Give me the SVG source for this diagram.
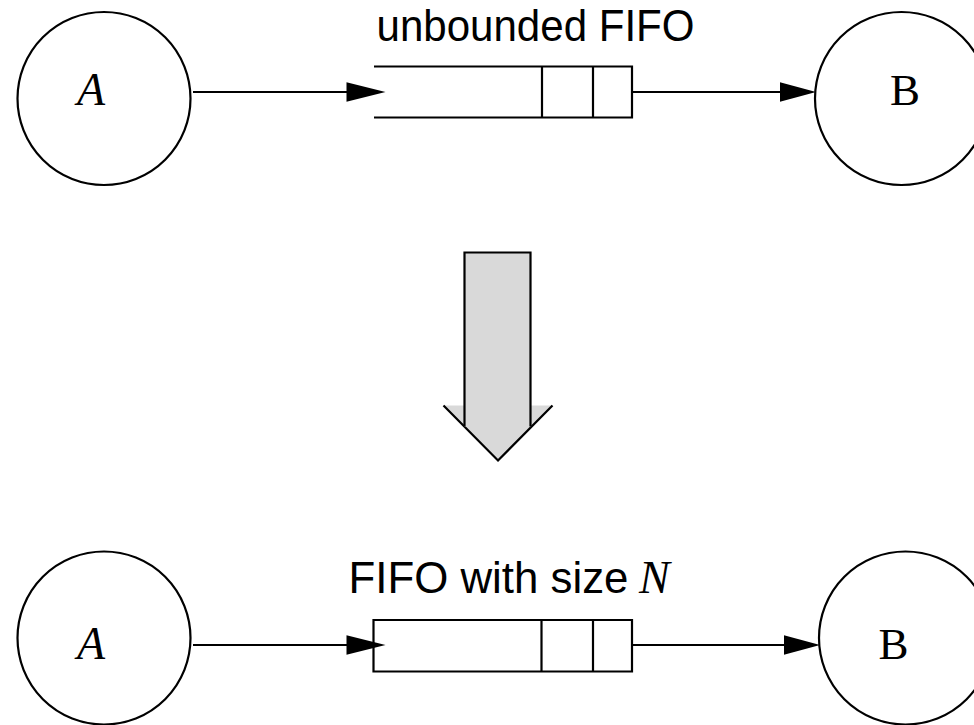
<svg xmlns="http://www.w3.org/2000/svg" width="974" height="725" viewBox="0 0 974 725">
<style>
.ln{stroke:#000;stroke-width:2.2;fill:none}
.nd{stroke:#000;stroke-width:2.2;fill:#fff}
.ah{fill:#000;stroke:none}
.lbl{font-family:"Liberation Sans",Arial,sans-serif;font-size:44px;fill:#000}
.mi{font-family:"Liberation Serif","Times New Roman",serif;font-style:italic;font-size:46px;fill:#000}
.mr{font-family:"Liberation Serif","Times New Roman",serif;font-size:45px;fill:#000}
</style>
<rect width="974" height="725" fill="#fff"/>

<g id="nodeA-top">
<circle class="nd" cx="104" cy="98.5" r="86.5"/>
<text class="mi" x="77" y="104.5">A</text>
</g>
<g id="nodeB-top">
<circle class="nd" cx="901.5" cy="98.5" r="86.5"/>
<text class="mr" x="890" y="104.5">B</text>
</g>
<g id="fifo-top">
<text class="lbl" x="376.5" y="41" textLength="318" lengthAdjust="spacingAndGlyphs">unbounded FIFO</text>
<path class="ln" d="M374,66.5 H632 V117.5 H374 M542,66.5 V117.5 M593,66.5 V117.5"/>
</g>

<g id="transform-arrow">
<polygon points="443.5,405.5 552.5,405.5 498,460.5" fill="#d9d9d9" stroke="none"/>
<polyline class="ln" points="443.5,405.5 498,460.5 552.5,405.5"/>
<path d="M464.5,426.5 V252.5 H530.5 V426.5" fill="#d9d9d9" stroke="#000" stroke-width="2.2"/>
</g>

<g id="nodeA-bottom">
<circle class="nd" cx="104" cy="638" r="86.5"/>
<text class="mi" x="77" y="658.5">A</text>
</g>
<g id="nodeB-bottom">
<circle class="nd" cx="905.5" cy="638" r="86.5"/>
<text class="mr" x="878.5" y="658.5">B</text>
</g>
<g id="fifo-bottom">
<text class="lbl" x="348.5" y="593" textLength="280" lengthAdjust="spacingAndGlyphs">FIFO with size</text>
<text class="mi" x="639" y="593">N</text>
<path class="ln" d="M373.5,620 H632 V671.5 H373.5 Z M541.5,620 V671.5 M593,620 V671.5"/>
</g>

<g id="connectors">
<line class="ln" x1="193" y1="92" x2="352" y2="92"/>
<polygon class="ah" points="346.5,82.3 385.5,92 346.5,101.7"/>
<line class="ln" x1="632" y1="92" x2="790" y2="92"/>
<polygon class="ah" points="780,82.3 816,92 780,101.7"/>
<line class="ln" x1="193" y1="645" x2="352" y2="645"/>
<polygon class="ah" points="346.5,635.3 385.5,645 346.5,654.7"/>
<line class="ln" x1="632" y1="645" x2="790" y2="645"/>
<polygon class="ah" points="784,635.3 820,645 784,654.7"/>
</g>
</svg>
